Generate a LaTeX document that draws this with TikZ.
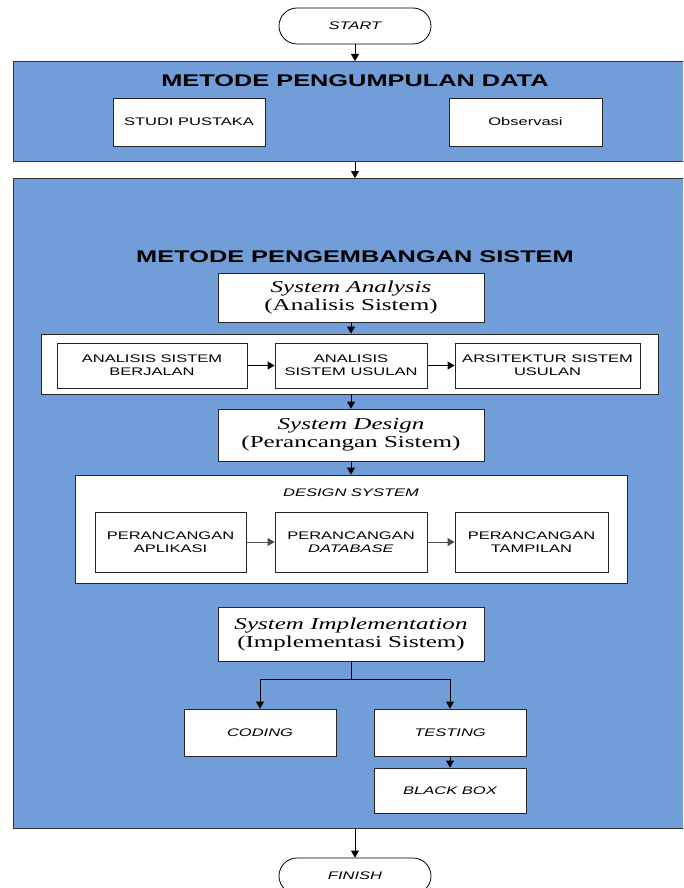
\documentclass[tikz,border=0pt]{standalone}
\usepackage{fontspec}
\setmainfont{Liberation Sans}[FakeStretch=1.5]
\newfontfamily\serifx{Liberation Serif}[FakeStretch=1.5]
\usetikzlibrary{arrows.meta,shapes.misc}
\definecolor{panelblue}{RGB}{113,157,216}
\begin{document}
\begin{tikzpicture}[x=1pt,y=-1pt,
  panel/.style={draw=black!80, fill=panelblue, line width=0.8pt, anchor=north west, inner sep=0pt},
  wbox/.style={draw=black!85, fill=white, line width=0.8pt, inner sep=0pt, align=center,
     font=\fontsize{11}{13}\selectfont},
  sbox/.style={draw=black!85, fill=white, line width=0.8pt, inner sep=0pt, align=center,
     minimum width=266pt, font=\serifx\fontsize{16.7}{18}\selectfont},
  term/.style={draw=black, fill=white, line width=0.8pt, rounded rectangle, inner sep=0pt,
     minimum width=152pt, minimum height=36pt, font=\itshape\fontsize{11}{13}\selectfont},
  ttl/.style={inner sep=0pt, font=\bfseries\fontsize{16.9}{19}\selectfont},
  arr/.style={-{Triangle[length=7pt,width=8pt]}, line width=0.8pt, black}
]
\clip (0,0) rectangle (683,888);
\fill[white] (0,0) rectangle (683,888);

% panels
\node[panel, minimum width=680pt, minimum height=100pt] (pd) at (13,61) {};
\node[panel, minimum width=680pt, minimum height=650pt] (pm) at (13,178) {};

% terminals
\node[term] (start) at (355,26) {START};
\node[term] (finish) at (355,876) {FINISH};

% panel 1
\node[ttl] (t1) at (355,81) {METODE PENGUMPULAN DATA};
\node[wbox, minimum width=152pt, minimum height=48pt] (studi) at (189,122) {STUDI PUSTAKA};
\node[wbox, minimum width=153pt, minimum height=48pt] (obs) at (525.5,122) {Observasi};

% panel 2
\node[ttl] (t2) at (355,257) {METODE PENGEMBANGAN SISTEM};
\node[sbox, minimum height=49pt] (sa) at (351,297.5) {\itshape System Analysis\\(Analisis Sistem)};
\node[wbox, minimum width=617pt, minimum height=60pt] (c1) at (349.7,364) {};
\node[wbox, minimum width=190pt, minimum height=45pt] (a1) at (152,365.5) {ANALISIS SISTEM\\BERJALAN};
\node[wbox, minimum width=152pt, minimum height=45pt] (a2) at (351,365.5) {ANALISIS\\SISTEM USULAN};
\node[wbox, minimum width=185pt, minimum height=45pt] (a3) at (547.5,365.5) {ARSITEKTUR SISTEM\\USULAN};

\node[sbox, minimum height=52pt] (sd) at (351,435) {\itshape System Design\\(Perancangan Sistem)};
\node[wbox, minimum width=552pt, minimum height=108pt] (c2) at (351,529) {};
\node[inner sep=0pt, font=\itshape\fontsize{11}{13}\selectfont] (dsl) at (351,493) {DESIGN SYSTEM};
\node[wbox, minimum width=151pt, minimum height=60pt] (p1) at (170.5,542) {PERANCANGAN\\APLIKASI};
\node[wbox, minimum width=152pt, minimum height=60pt] (p2) at (351,542) {PERANCANGAN\\\textit{DATABASE}};
\node[wbox, minimum width=153pt, minimum height=60pt] (p3) at (531.5,542) {PERANCANGAN\\TAMPILAN};

\node[sbox, minimum height=54pt] (si) at (351,634) {\itshape System Implementation\\(Implementasi Sistem)};
\node[wbox, minimum width=152pt, minimum height=47pt, font=\itshape\fontsize{11}{13}\selectfont] (cod) at (260,732.5) {CODING};
\node[wbox, minimum width=152pt, minimum height=47pt, font=\itshape\fontsize{11}{13}\selectfont] (tes) at (450,732.5) {TESTING};
\node[wbox, minimum width=152pt, minimum height=45pt, font=\itshape\fontsize{11}{13}\selectfont] (bb) at (450,790.5) {BLACK BOX};

% connectors
\draw[arr] (start.south) -- (start.south |- pd.north);
\draw[arr] (start.south |- pd.south) -- (start.south |- pm.north);
\draw[arr] (sa.south) -- (sa.south |- c1.north);
\draw[arr] (a1.east) -- (a2.west);
\draw[arr] (a2.east) -- (a3.west);
\draw[arr] (sa.south |- c1.south) -- (sd.north);
\draw[arr] (sd.south) -- (sd.south |- c2.north);
\draw[arr, draw=black!70] (p1.east) -- (p2.west);
\draw[arr, draw=black!70] (p2.east) -- (p3.west);
\coordinate (split) at ([yshift=-18pt]si.south);
\draw[line width=0.8pt] (si.south) -- (split);
\draw[arr] (split) -| (cod.north);
\draw[arr] (split) -| (tes.north);
\draw[arr] (tes.south) -- (bb.north);
\draw[arr] (start.south |- pm.south) -- (finish.north);
\end{tikzpicture}
\end{document}
